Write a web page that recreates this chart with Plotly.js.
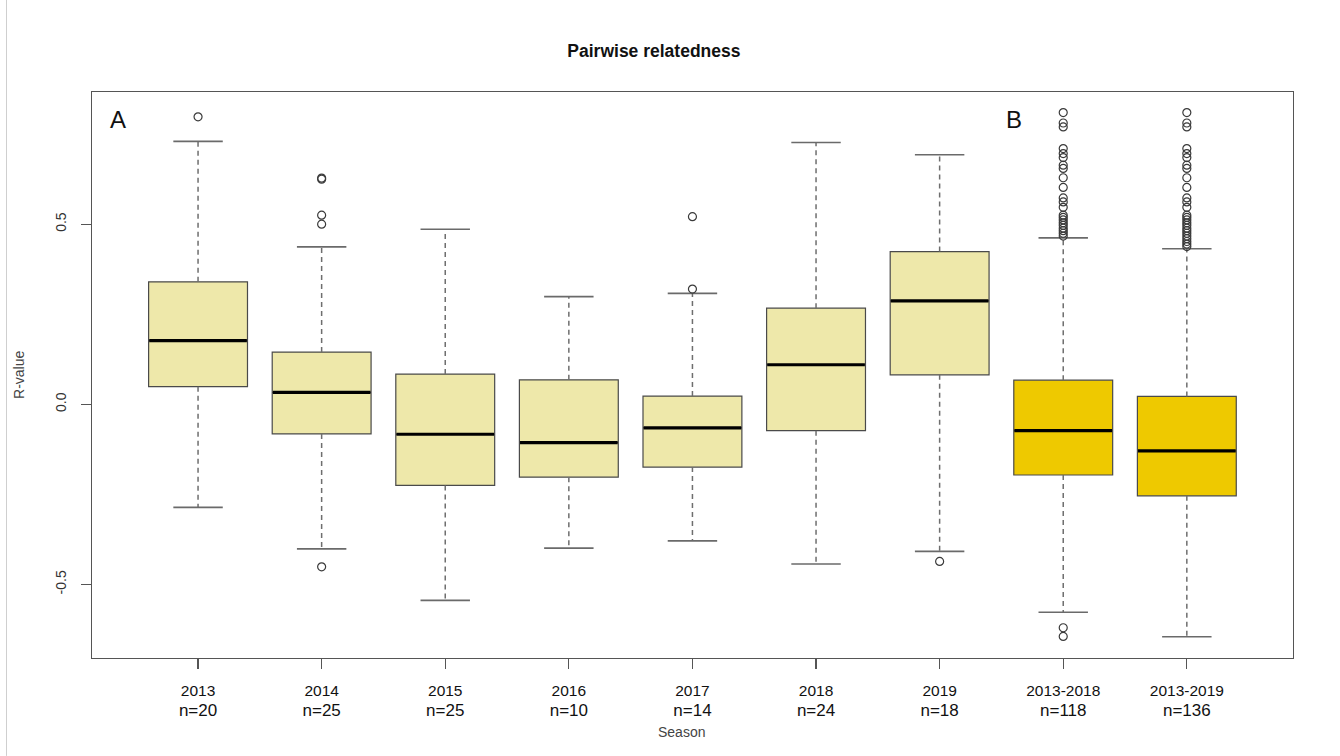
<!DOCTYPE html>
<html>
<head>
<meta charset="utf-8">
<script src="https://cdn.plot.ly/plotly-3.0.1.min.js"></script>
<style>html,body{margin:0;padding:0;background:#fff;}#chart{width:1340px;height:756px;}</style>
</head>
<body>
<div id="chart"></div>
<script>
// ---- data ----
const categories = ['2013','2014','2015','2016','2017','2018','2019','2013-2018','2013-2019'];
const nLabels = ['n=20','n=25','n=25','n=10','n=14','n=24','n=18','n=118','n=136'];
const groupType = ['season','season','season','season','season','season','season','pooled','pooled'];
const lowerWhisker = [-0.286,-0.401,-0.544,-0.399,-0.379,-0.443,-0.408,-0.577,-0.645];
const q1 = [0.049,-0.082,-0.225,-0.202,-0.174,-0.073,0.082,-0.196,-0.254];
const median = [0.177,0.033,-0.083,-0.106,-0.065,0.110,0.287,-0.073,-0.129];
const q3 = [0.340,0.145,0.084,0.068,0.023,0.267,0.424,0.067,0.022];
const upperWhisker = [0.730,0.437,0.486,0.299,0.308,0.727,0.693,0.462,0.432];

const outliers2013 = [0.798];
const outliers2014 = [0.628,0.625,0.525,0.500,-0.451];
const outliers2017 = [0.521,0.320];
const outliers2019 = [-0.436];
const outliers2013to2018 = [0.810,0.781,0.770,0.710,0.696,0.685,0.664,0.655,0.629,0.602,0.573,0.562,0.547,0.525,0.519,0.512,0.504,0.497,0.489,0.482,0.475,0.467,-0.620,-0.644];
const outliers2013to2019 = [0.810,0.781,0.770,0.710,0.696,0.685,0.664,0.655,0.629,0.602,0.573,0.562,0.547,0.525,0.519,0.512,0.504,0.497,0.489,0.482,0.475,0.467,0.460,0.452,0.445,0.438];
const outlierSets = {'2013':outliers2013,'2014':outliers2014,'2017':outliers2017,'2019':outliers2019,'2013-2018':outliers2013to2018,'2013-2019':outliers2013to2019};

const colors = {season:'#EEE8AA', pooled:'#EEC900'};

// ---- build traces ----
const pos = categories.map((c,i)=>i+1);
const FONT = 'Liberation Sans, Arial, sans-serif';
const traces = [];

['season','pooled'].forEach(g=>{
  const idx = pos.map((p,i)=>i).filter(i=>groupType[i]===g);
  traces.push({
    type:'box', x: idx.map(i=>pos[i]),
    q1: idx.map(i=>q1[i]), median: idx.map(i=>median[i]), q3: idx.map(i=>q3[i]),
    lowerfence: idx.map(i=>q1[i]), upperfence: idx.map(i=>q3[i]),
    width:0.8, fillcolor: colors[g], line:{color:'#4a4a4a', width:1.2},
    boxpoints:false, hoverinfo:'skip', showlegend:false
  });
});

// whiskers (dashed)
const wx=[], wy=[];
pos.forEach((p,i)=>{ wx.push(p,p,null,p,p,null); wy.push(q3[i],upperWhisker[i],null,q1[i],lowerWhisker[i],null); });
traces.push({type:'scatter', mode:'lines', x:wx, y:wy, line:{color:'#6e6e6e', width:1.5, dash:'5px,4px'}, hoverinfo:'skip', showlegend:false});

// caps
const cx=[], cy=[];
pos.forEach((p,i)=>{ cx.push(p-0.2,p+0.2,null,p-0.2,p+0.2,null); cy.push(upperWhisker[i],upperWhisker[i],null,lowerWhisker[i],lowerWhisker[i],null); });
traces.push({type:'scatter', mode:'lines', x:cx, y:cy, line:{color:'#6a6a6a', width:1.6}, hoverinfo:'skip', showlegend:false});

// medians (thick)
const mx=[], my=[];
pos.forEach((p,i)=>{ mx.push(p-0.395,p+0.395,null); my.push(median[i],median[i],null); });
traces.push({type:'scatter', mode:'lines', x:mx, y:my, line:{color:'#000', width:3.2}, hoverinfo:'skip', showlegend:false});

// outliers
const ox=[], oy=[];
categories.forEach((c,i)=>{ (outlierSets[c]||[]).forEach(v=>{ ox.push(pos[i]); oy.push(v); }); });
traces.push({type:'scatter', mode:'markers', x:ox, y:oy, marker:{symbol:'circle-open', size:8, color:'#3a3a3a', line:{width:1.2}}, hoverinfo:'skip', showlegend:false});

const tickText = categories.map((c,i)=>'<span style="font-size:15.5px">'+c+'</span><br><span style="font-size:17px">'+nLabels[i]+'</span>');

const layout = {
  width:1340, height:756,
  margin:{l:92, r:47, t:92, b:98},
  paper_bgcolor:'#fff', plot_bgcolor:'#fff',
  boxmode:'overlay',
  title:{text:'<b>Pairwise relatedness</b>', font:{family:FONT, size:17.5, color:'#111'}, x:0.488, xref:'container', xanchor:'center', y:0.933, yref:'container', yanchor:'middle'},
  xaxis:{range:[0.142,9.859], tickvals:pos, ticktext:tickText, ticks:'outside', ticklen:10, tickcolor:'#555', tickwidth:1.3,
         ticklabelstandoff:8,
         showgrid:false, zeroline:false, showline:true, mirror:true, linecolor:'#555', linewidth:1.4,
         tickfont:{family:FONT, size:15.5, color:'#111'}, fixedrange:true},
  yaxis:{range:[-0.704,0.867], tickvals:[-0.5,0,0.5], ticktext:['-0.5','0.0','0.5'], tickangle:-90, ticks:'outside', ticklen:10, tickcolor:'#555', tickwidth:1.3,
         ticklabelstandoff:9,
         showgrid:false, zeroline:false, showline:true, mirror:true, linecolor:'#555', linewidth:1.4,
         tickfont:{family:FONT, size:14, color:'#333'}, fixedrange:true},
  annotations:[
    {text:'A', x:0.355, y:0.79, xref:'x', yref:'y', showarrow:false, xanchor:'center', yanchor:'middle', font:{family:FONT, size:24, color:'#111'}},
    {text:'B', x:7.605, y:0.79, xref:'x', yref:'y', showarrow:false, xanchor:'center', yanchor:'middle', font:{family:FONT, size:24, color:'#111'}},
    {text:'R-value', x:-0.0608, y:0.5, xref:'paper', yref:'paper', textangle:-90, showarrow:false, xanchor:'center', yanchor:'middle', font:{family:FONT, size:14, color:'#444'}},
    {text:'Season', x:0.491, y:-0.130, xref:'paper', yref:'paper', showarrow:false, xanchor:'center', yanchor:'middle', font:{family:FONT, size:14, color:'#444'}}
  ],
  shapes:[
    {type:'line', xref:'paper', yref:'paper', x0:-0.0712, x1:-0.0712, y0:-0.173, y1:1.163, line:{color:'#cfcfcf', width:1}}
  ]
};

Plotly.newPlot('chart', traces, layout, {displayModeBar:false, staticPlot:true});
</script>
</body>
</html>
